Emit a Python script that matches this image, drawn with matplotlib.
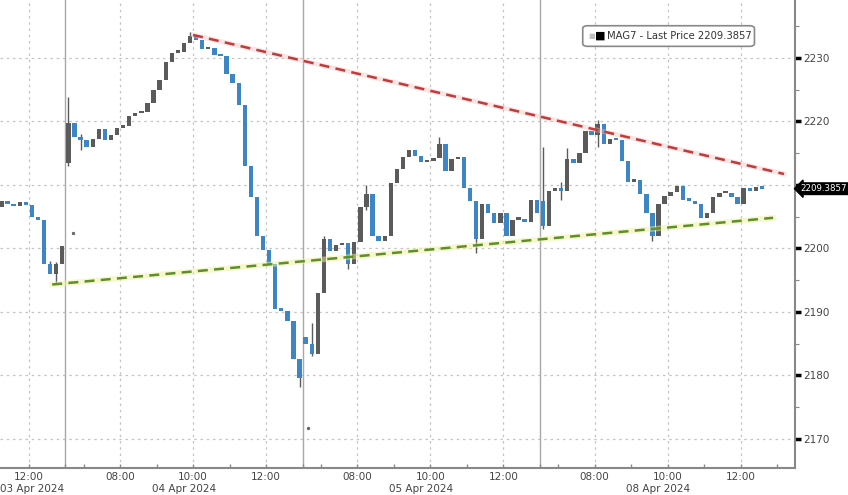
import matplotlib
matplotlib.use("Agg")
import matplotlib.pyplot as plt
import matplotlib.transforms as mtransforms
from matplotlib.patches import FancyBboxPatch

# MAG7 index, 10-minute candles, closes
# day 0 = 03 Apr (only the last bars are visible), 1 = 04 Apr, 2 = 05 Apr, 3 = 08 Apr
day0_first_bar = 28
day0_open = 2206.5
day0_close = [2207.4, 2207.0, 2206.6, 2207.3, 2206.8, 2205.0, 2204.4,
              2197.5, 2196.0, 2197.6, 2200.3]

day1_open = 2213.5
day1_close = [2219.8, 2217.6, 2217.0, 2216.0, 2217.2, 2218.8, 2217.0, 2217.8,
              2219.0, 2219.3, 2220.8, 2221.3, 2221.5, 2222.9, 2225.0, 2226.5,
              2229.3, 2230.8, 2230.9, 2232.3, 2233.5, 2232.8, 2231.4, 2231.5,
              2230.4, 2230.3, 2227.5, 2226.0, 2222.5, 2213.0, 2208.0, 2202.0,
              2199.8, 2197.5, 2190.5, 2190.2, 2188.5, 2182.5, 2179.5]

day2_open = 2186.0
day2_close = [2185.0, 2183.3, 2193.0, 2201.5, 2199.5, 2200.5, 2200.8, 2197.5,
              2201.0, 2206.5, 2208.5, 2202.0, 2201.2, 2202.0, 2210.3, 2212.5,
              2214.4, 2215.5, 2214.6, 2213.6, 2213.8, 2214.2, 2216.5, 2212.2,
              2214.0, 2214.4, 2209.5, 2207.5, 2201.5, 2207.0, 2205.5, 2204.0,
              2205.5, 2202.0, 2204.5, 2204.5, 2204.2, 2207.6, 2205.6]

day3_open = 2207.5
day3_close = [2203.5, 2209.0, 2209.5, 2209.0, 2214.0, 2213.5, 2215.0, 2218.5,
              2217.8, 2219.5, 2216.5, 2217.2, 2217.0, 2213.8, 2210.5, 2210.8,
              2208.5, 2205.5, 2202.0, 2207.0, 2208.3, 2208.8, 2209.8, 2207.6,
              2207.5, 2207.0, 2204.8, 2205.6, 2208.1, 2208.7, 2208.7, 2208.1,
              2207.0, 2209.5, 2209.0, 2209.7, 2209.3857]

# visible wicks beyond the bodies: (day, bar index within the day, low, high)
wick_day = [0, 0, 1, 1, 1, 1, 2, 2, 2, 2, 2, 2, 3, 3, 3, 3, 3]
wick_bar = [36, 37, 0, 2, 20, 38, 1, 3, 7, 10, 22, 28, 0, 3, 4, 9, 18]
wick_low = [2196.5, 2194.3, 2213.0, 2215.5, 2232.5, 2178.2, 2183.0, 2196.0,
            2196.8, 2206.0, 2215.5, 2199.3, 2203.0, 2207.6, 2212.0, 2216.0, 2201.2]
wick_high = [2198.0, 2197.8, 2223.9, 2218.0, 2234.0, 2182.5, 2188.3, 2202.0,
             2200.5, 2210.0, 2217.5, 2207.5, 2216.0, 2210.5, 2215.8, 2220.2, 2205.5]

# odd single prints seen on the chart (x in trading hours, price)
print_x = [6.7, 13.15]
print_y = [2202.4, 2171.7]

# trend lines, x in trading hours since 03 Apr 06:30
resist_x = [10.0, 26.19]
resist_y = [2233.6, 2211.7]
support_x = [6.14, 25.89]
support_y = [2194.3, 2204.8]

last_price = 2209.3857
day_labels = ["03 Apr 2024", "04 Apr 2024", "05 Apr 2024", "08 Apr 2024"]
day_label_x = [5.6, 9.75, 16.25, 22.75]
time_tick_x = [5.5, 8.0, 10.0, 12.0, 14.5, 16.5, 18.5, 21.0, 23.0, 25.0]
time_tick_labels = ["12:00", "08:00", "10:00", "12:00", "08:00", "10:00",
                    "12:00", "08:00", "10:00", "12:00"]
day_breaks = [6.5, 13.0, 19.5]

SESSION = 6.5
BARS_PER_HOUR = 6
BLUE = "#3d86c6"
GREY = "#5b5b5b"

plt.rcParams["font.family"] = ["DejaVu Sans"]
fig = plt.figure(figsize=(8.48, 4.95), dpi=100)
ax = fig.add_axes([0.0, 1 - 468 / 495, 795 / 848, 468 / 495])

days = [(0, day0_first_bar, day0_open, day0_close),
        (1, 0, day1_open, day1_close),
        (2, 0, day2_open, day2_close),
        (3, 0, day3_open, day3_close)]

bar_x = {}
for d, first, o, closes in days:
    prev = o
    for k, c in enumerate(closes):
        i = first + k
        x = SESSION * d + (i + 0.5) / BARS_PER_HOUR
        bar_x[(d, i)] = x
        lo, hi = min(prev, c), max(prev, c)
        h = max(hi - lo, 0.35)
        col = BLUE if c < prev else GREY
        ax.bar(x, h, bottom=lo, width=0.12, color=col, linewidth=0, zorder=3)
        prev = c

for d, i, lo, hi in zip(wick_day, wick_bar, wick_low, wick_high):
    ax.vlines(bar_x[(d, i)], lo, hi, color=GREY, linewidth=1.0, zorder=2)

ax.scatter(print_x, print_y, s=2, color="#666666", zorder=3)

# trend lines
ax.plot(support_x, support_y, color="#f0f0a0", linewidth=4, alpha=0.5, zorder=4)
ax.plot(support_x, support_y, color="#5f8f28", linewidth=1.8, dashes=(4, 2.5), zorder=5)
ax.plot(resist_x, resist_y, color="#f4c0c0", linewidth=3.5, alpha=0.4, zorder=4)
ax.plot(resist_x, resist_y, color="#c43a3a", linewidth=1.8, dashes=(4, 2.5), zorder=5)

# y axis on right
ax.yaxis.tick_right()
ax.set_yticks([2170, 2180, 2190, 2200, 2210, 2220, 2230])
ax.set_yticklabels(["2170", "2180", "2190", "2200", "", "2220", "2230"])
ax.set_yticks([2175, 2185, 2195, 2205, 2215, 2225, 2235], minor=True)
ax.tick_params(axis="y", which="major", direction="out", length=4, width=2.5,
               color="black", labelsize=7.5, labelcolor="#444444", pad=2)
ax.tick_params(axis="y", which="minor", direction="out", length=3, width=0.8,
               color="#888888")

# x ticks
ax.set_xticks(time_tick_x)
ax.set_xticklabels(time_tick_labels)
minor_x = []
for d in range(4):
    for h in [0.5, 2.5, 4.5, 6.5]:
        minor_x.append(SESSION * d + h)
ax.set_xticks(minor_x, minor=True)
ax.tick_params(axis="x", which="major", direction="in", length=3, width=1,
               color="#888888", labelsize=7.5, labelcolor="#444444", pad=3)
ax.tick_params(axis="x", which="minor", direction="in", length=3, width=1,
               color="#888888")

# limits after the ticks, since set_xticks widens the view
ax.set_xlim(4.71, 26.49)
ax.set_ylim(2165.4, 2239.1)

# grid
for y in [2170, 2180, 2190, 2200, 2210, 2220, 2230]:
    ax.axhline(y, color="#c4c4c4", linewidth=0.9, linestyle=(0, (2, 3)), zorder=1)
for x in time_tick_x:
    ax.axvline(x, color="#c4c4c4", linewidth=0.9, linestyle=(0, (2, 3)), zorder=1)
for x in day_breaks:
    ax.axvline(x, color="#a8a8a8", linewidth=1.0, zorder=1)

for side in ["left", "top"]:
    ax.spines[side].set_visible(False)
ax.spines["right"].set_color("#888888")
ax.spines["right"].set_linewidth(1.5)
ax.spines["bottom"].set_color("#888888")
ax.spines["bottom"].set_linewidth(1.5)

# date labels under the time labels
trans = mtransforms.blended_transform_factory(ax.transData, ax.transAxes)
for x, lab in zip(day_label_x, day_labels):
    ax.text(x, -0.034, lab, transform=trans, ha="center", va="top",
            fontsize=7.5, color="#444444", clip_on=False)

# last price tag
ax.annotate(f"{last_price:.4f}", xy=(1.0, last_price),
            xycoords=("axes fraction", "data"), xytext=(4, 0),
            textcoords="offset points", ha="left", va="center",
            fontsize=6.2, color="white", annotation_clip=False,
            bbox=dict(boxstyle="larrow,pad=0.15", fc="black", ec="black"))

# legend box
box = FancyBboxPatch((0.733, 0.901), 0.216, 0.044, transform=ax.transAxes,
                     boxstyle="round,pad=0,rounding_size=0.006",
                     fc="white", ec="#888888", lw=1.2, zorder=6)
ax.add_patch(box)
ax.text(0.740, 0.923, "■", transform=ax.transAxes, ha="left", va="center",
        fontsize=5, color="#c0c0c0", zorder=7)
ax.text(0.749, 0.923, "■", transform=ax.transAxes, ha="left", va="center",
        fontsize=8, color="black", zorder=7)
ax.text(0.764, 0.923, "MAG7 - Last Price 2209.3857", transform=ax.transAxes,
        ha="left", va="center", fontsize=7.2, color="#333333", zorder=7)

fig.savefig("out.png", dpi=100)
